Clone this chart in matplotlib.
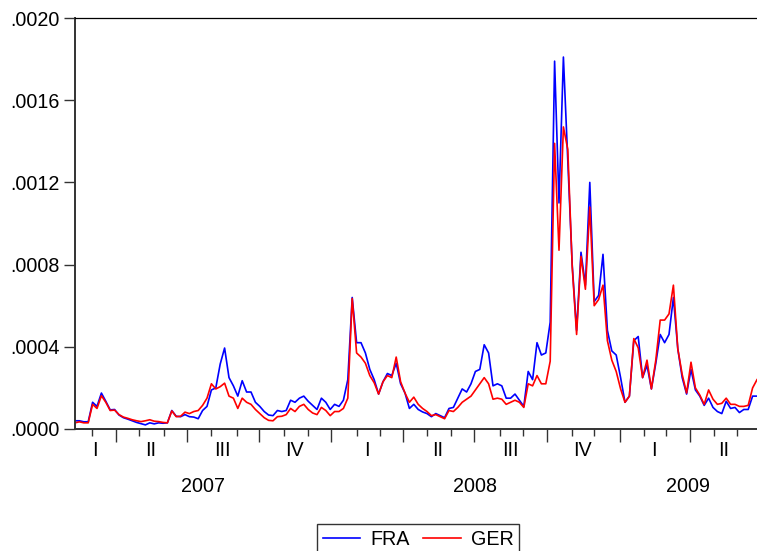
import numpy as np
import pandas as pd
import matplotlib
matplotlib.use("Agg")
import matplotlib.pyplot as plt
import matplotlib.transforms as mtransforms

plt.rcParams["font.family"] = ["Liberation Sans", "DejaVu Sans"]

# daily (5-day week) sample, values read every 4th observation, units of 1e-4
START = "2007-02-08"
STEP = 4

fra = [0.40, 0.40, 0.35, 0.35, 1.30, 1.10, 1.75, 1.35, 0.93, 0.95,
       0.68, 0.55, 0.48, 0.40, 0.32, 0.26, 0.20, 0.30, 0.25, 0.30,
       0.28, 0.30, 0.90, 0.62, 0.60, 0.70, 0.60, 0.58, 0.50, 0.90,
       1.10, 1.90, 2.00, 3.16, 3.94, 2.50, 2.10, 1.60, 2.35, 1.80,
       1.80, 1.30, 1.10, 0.85, 0.68, 0.65, 0.90, 0.85, 0.90, 1.40,
       1.30, 1.50, 1.60, 1.35, 1.15, 0.95, 1.50, 1.30, 0.95, 1.20,
       1.10, 1.40, 2.40, 6.40, 4.20, 4.20, 3.70, 2.90, 2.40, 1.70,
       2.30, 2.70, 2.60, 3.20, 2.20, 1.75, 1.00, 1.20, 0.95, 0.83,
       0.75, 0.60, 0.75, 0.65, 0.55, 1.00, 1.05, 1.50, 1.95, 1.80,
       2.20, 2.80, 2.90, 4.10, 3.70, 2.10, 2.20, 2.10, 1.50, 1.50,
       1.70, 1.40, 1.10, 2.80, 2.40, 4.20, 3.60, 3.70, 5.20, 17.90,
       11.00, 18.10, 13.00, 8.00, 4.80, 8.60, 7.00, 12.00, 6.20, 6.50,
       8.50, 4.80, 3.80, 3.60, 2.50, 1.30, 1.60, 4.30, 4.50, 2.50,
       3.10, 1.95, 3.20, 4.60, 4.20, 4.60, 6.40, 3.90, 2.50, 1.70,
       2.90, 1.90, 1.60, 1.15, 1.50, 1.05, 0.85, 0.75, 1.35, 1.00,
       1.05, 0.80, 0.95, 0.95, 1.60, 1.60]

ger = [0.30, 0.35, 0.30, 0.30, 1.20, 1.00, 1.62, 1.30, 0.90, 0.92,
       0.70, 0.58, 0.52, 0.45, 0.40, 0.36, 0.40, 0.45, 0.38, 0.36,
       0.32, 0.30, 0.88, 0.60, 0.62, 0.82, 0.75, 0.85, 0.90, 1.15,
       1.50, 2.20, 1.95, 2.06, 2.23, 1.60, 1.50, 1.00, 1.50, 1.30,
       1.20, 0.95, 0.75, 0.55, 0.42, 0.40, 0.60, 0.62, 0.70, 1.00,
       0.85, 1.10, 1.20, 0.95, 0.78, 0.70, 1.05, 0.90, 0.65, 0.85,
       0.85, 1.00, 1.50, 6.35, 3.70, 3.50, 3.20, 2.60, 2.25, 1.70,
       2.30, 2.60, 2.50, 3.50, 2.30, 1.75, 1.30, 1.55, 1.20, 1.00,
       0.85, 0.65, 0.70, 0.60, 0.50, 0.90, 0.85, 1.05, 1.30, 1.45,
       1.60, 1.90, 2.20, 2.50, 2.20, 1.45, 1.50, 1.45, 1.20, 1.30,
       1.40, 1.30, 1.05, 2.20, 2.10, 2.60, 2.20, 2.20, 3.30, 13.90,
       8.70, 14.70, 13.60, 7.90, 4.60, 8.40, 6.80, 10.80, 6.00, 6.30,
       7.00, 4.30, 3.35, 2.80, 1.95, 1.30, 1.60, 4.40, 3.95, 2.50,
       3.35, 1.95, 3.35, 5.30, 5.30, 5.60, 7.00, 3.90, 2.65, 1.75,
       3.25, 2.00, 1.65, 1.20, 1.90, 1.45, 1.20, 1.25, 1.50, 1.20,
       1.20, 1.10, 1.10, 1.15, 2.00, 2.40]

y_ticks = [0.0, 0.0004, 0.0008, 0.0012, 0.0016, 0.0020]
roman = ["I", "II", "III", "IV"]

fra = np.array(fra) * 1e-4
ger = np.array(ger) * 1e-4
obs = np.arange(len(fra)) * STEP
n_obs = obs[-1] + 1
dates = pd.bdate_range(START, periods=n_obs)

FS = 14.2
W, H = 757, 551
fig = plt.figure(figsize=(W / 100, H / 100), dpi=100)
ax = fig.add_axes([75 / W, 1 - 429 / H, (W - 75) / W, (429 - 18) / H])

l1, = ax.plot(obs, fra, color="#0000FF", lw=1.2, label="FRA")
l2, = ax.plot(obs, ger, color="#FF0000", lw=1.2, label="GER")

ax.set_xlim(0, n_obs - 1)
ax.set_ylim(0, 0.002)
ax.set_yticks(y_ticks)
ax.set_yticklabels([f"{v:.4f}"[1:] for v in y_ticks], fontsize=FS)
ax.tick_params(axis="y", direction="out", length=8, width=1, pad=3, color="#333333")

# month ticks (short), quarter ticks (long)
idx = pd.Series(np.arange(n_obs), index=dates)
month_starts = idx.groupby([dates.year, dates.month]).first()
q_pos = [p for (y, m), p in month_starts.items() if m in (1, 4, 7, 10) and p > 0]
m_pos = [p for (y, m), p in month_starts.items() if m not in (1, 4, 7, 10) and p > 0]
ax.set_xticks(q_pos)
ax.set_xticklabels([])
ax.set_xticks(m_pos, minor=True)
ax.tick_params(axis="x", which="major", direction="out", length=9, width=1, color="#333333")
ax.tick_params(axis="x", which="minor", direction="out", length=5, width=1, color="#333333")

trans = mtransforms.blended_transform_factory(ax.transData, ax.transAxes)
quarters = idx.groupby([dates.year, dates.quarter])
for (y, q), s in quarters:
    c = (s.iloc[0] + s.iloc[-1]) / 2
    ax.text(c, -21 / 411, roman[q - 1], transform=trans, ha="center", va="center",
            fontsize=FS)
years = idx.groupby(dates.year)
for y, s in years:
    c = (s.iloc[0] + s.iloc[-1]) / 2
    ax.text(c, -58 / 411, str(y), transform=trans, ha="center", va="center",
            fontsize=FS)

for side in ("left", "bottom"):
    ax.spines[side].set_linewidth(1.4)
    ax.spines[side].set_color("#333333")
ax.spines["top"].set_linewidth(0.9)
ax.spines["right"].set_visible(False)

leg = fig.legend(handles=[l1, l2], loc="upper center", ncol=2,
                 bbox_to_anchor=(418 / W, 1 - 524 / H), borderaxespad=0,
                 fontsize=FS, frameon=True, fancybox=False, edgecolor="black",
                 handlelength=1.9, handletextpad=0.5, columnspacing=0.7,
                 borderpad=0.3)
leg.get_frame().set_linewidth(1.0)

fig.savefig("out.png", dpi=100)
